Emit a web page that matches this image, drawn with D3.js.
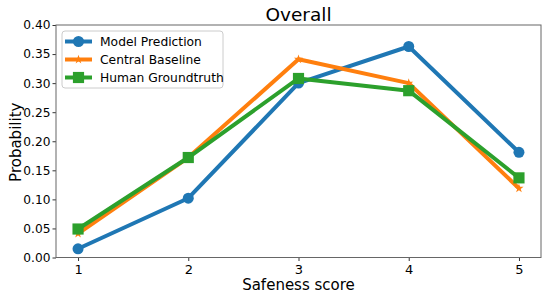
<!DOCTYPE html>
<html><head><meta charset="utf-8">
<script src="https://cdn.jsdelivr.net/npm/d3@7"></script>
<style>body{margin:0;background:#fff}svg{display:block}text{font-family:"DejaVu Sans",sans-serif}</style>
</head><body><svg id="c" width="550" height="300"></svg>
<script>
const scores = [1, 2, 3, 4, 5];
const modelPrediction = [0.015, 0.102, 0.300, 0.363, 0.181];
const centralBaseline = [0.041, 0.172, 0.341, 0.300, 0.119];
const humanGroundtruth = [0.049, 0.172, 0.308, 0.287, 0.137];
const seriesNames = ["Model Prediction", "Central Baseline", "Human Groundtruth"];
const yTicks = [0.00, 0.05, 0.10, 0.15, 0.20, 0.25, 0.30, 0.35, 0.40];

const series = [
  {name: seriesNames[0], values: modelPrediction, color: "#1f77b4", marker: "circle"},
  {name: seriesNames[1], values: centralBaseline, color: "#ff7f0e", marker: "star"},
  {name: seriesNames[2], values: humanGroundtruth, color: "#2ca02c", marker: "square"}
];

const svg = d3.select("#c");
const L = 56, R = 541, T = 25, B = 257.5;
const x = d3.scaleLinear().domain([0.8, 5.2]).range([L, R]);
const y = d3.scaleLinear().domain([0, 0.4]).range([B, T]);

const xAxis = svg.append("g").attr("transform", `translate(0,${B})`)
  .call(d3.axisBottom(x).tickValues(scores).tickFormat(d3.format("d")).tickSize(3.5).tickPadding(4));
const yAxis = svg.append("g").attr("transform", `translate(${L},0)`)
  .call(d3.axisLeft(y).tickValues(yTicks).tickFormat(d3.format(".2f")).tickSize(3.5).tickPadding(2));
[xAxis, yAxis].forEach(g => {
  g.select(".domain").remove();
  g.selectAll(".tick line").attr("stroke", "#000").attr("stroke-width", 0.8);
  g.selectAll(".tick text").attr("font-size", 12.2).attr("fill", "#000").attr("font-family", "DejaVu Sans");
});
xAxis.selectAll(".tick text").attr("font-size", 13);
svg.append("rect").attr("x", L).attr("y", T).attr("width", R - L).attr("height", B - T)
  .attr("fill", "none").attr("stroke", "#666").attr("stroke-width", 1);

function markerPath(type) {
  if (type === "circle") return d3.symbol(d3.symbolCircle, 95)();
  if (type === "square") return d3.symbol(d3.symbolSquare, 125)();
  return d3.symbol(d3.symbolStar, 26)();
}

const line = d3.line().x((d, i) => x(scores[i])).y(d => y(d));
const plot = svg.append("g");
series.forEach(s => {
  plot.append("path").attr("d", line(s.values)).attr("fill", "none")
    .attr("stroke", s.color).attr("stroke-width", 4).attr("stroke-linejoin", "round");
  plot.selectAll(null).data(s.values).enter().append("path")
    .attr("d", markerPath(s.marker))
    .attr("transform", (d, i) => `translate(${x(scores[i])},${y(d)})`)
    .attr("fill", s.color);
});

svg.append("text").attr("x", (L + R) / 2).attr("y", 21).attr("text-anchor", "middle")
  .attr("font-size", 18.5).text("Overall");
svg.append("text").attr("x", (L + R) / 2).attr("y", 290).attr("text-anchor", "middle")
  .attr("font-size", 15).text("Safeness score");
svg.append("text").attr("transform", `translate(21,${(T + B) / 2 + 1}) rotate(-90)`)
  .attr("text-anchor", "middle").attr("font-size", 15).text("Probability");

const lg = svg.append("g");
lg.append("rect").attr("x", 62).attr("y", 31).attr("width", 161).attr("height", 57).attr("rx", 3)
  .attr("fill", "#fff").attr("fill-opacity", 0.8).attr("stroke", "#ccc").attr("stroke-width", 1);
series.forEach((s, i) => {
  const yy = 41.5 + i * 18;
  lg.append("line").attr("x1", 65).attr("x2", 92).attr("y1", yy).attr("y2", yy)
    .attr("stroke", s.color).attr("stroke-width", 4);
  lg.append("path").attr("d", markerPath(s.marker)).attr("transform", `translate(78.5,${yy})`).attr("fill", s.color);
  lg.append("text").attr("x", 100).attr("y", yy + 4.5).attr("font-size", 12.3).text(s.name);
});
</script></body></html>
